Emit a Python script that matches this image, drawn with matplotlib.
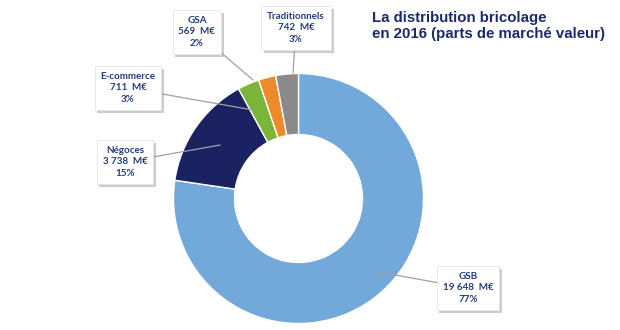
import matplotlib.pyplot as plt
import matplotlib.patheffects as pe

segments = ['GSB', 'Négoces', 'E-commerce', 'GSA', 'Traditionnels']
values_meur = [19648, 3738, 711, 569, 742]
value_labels = ['19 648', '3 738', '711', '569', '742']
shares = ['77%', '15%', '3%', '2%', '3%']
colors = ['#72a8da', '#1b2262', '#7ab53a', '#ef8a2c', '#8a8a8a']

# label box centres and leader ends, in pixel coords (y from top)
box_pos = [(468, 288), (125, 162), (128, 88), (197, 32), (296, 28)]
line_end = [(378, 272), (220, 145), (253, 110), (253, 80), (293, 73)]

W, H = 620, 330
fig = plt.figure(figsize=(6.2, 3.3), dpi=100)
ax = fig.add_axes([0, 0, 1, 1])
ax.set_xlim(0, W)
ax.set_ylim(0, H)
ax.set_aspect('equal')
ax.axis('off')

cx, cy, r = 298.5, H - 198.5, 125
ax.pie(values_meur, colors=colors, startangle=90, counterclock=False,
       center=(cx, cy), radius=r,
       wedgeprops=dict(width=61, edgecolor='white', linewidth=1.0))
ax.set_xlim(0, W)
ax.set_ylim(0, H)

txt_color = '#243d7c'
for name, v, s, (bx, by), (lx, ly) in zip(segments, value_labels, shares, box_pos, line_end):
    ax.plot([bx, lx], [H - by, H - ly], color='#a0a0a0', lw=0.9, zorder=3)
    t = ax.text(bx, H - by, f'{name}\n{v}  M€\n{s}', ha='center', va='center',
                fontsize=7.1, fontweight='bold', color=txt_color, family=['Lato', 'DejaVu Sans'],
                linespacing=1.35, zorder=5,
                bbox=dict(boxstyle='square,pad=0.6', fc='white', ec='#e4e4e4', lw=0.6))
    t.get_bbox_patch().set_path_effects([
        pe.SimplePatchShadow(offset=(2, -2), shadow_rgbFace='#9a9a9a', alpha=0.5),
        pe.Normal()])

ax.text(372, H - 11, 'La distribution bricolage\nen 2016 (parts de marché valeur)',
        ha='left', va='top', fontsize=10.8, fontweight='bold', color='#1a2a6c',
        family=['Liberation Sans Narrow', 'Liberation Sans', 'DejaVu Sans'], linespacing=1.2)

fig.savefig('out.png', dpi=100)
